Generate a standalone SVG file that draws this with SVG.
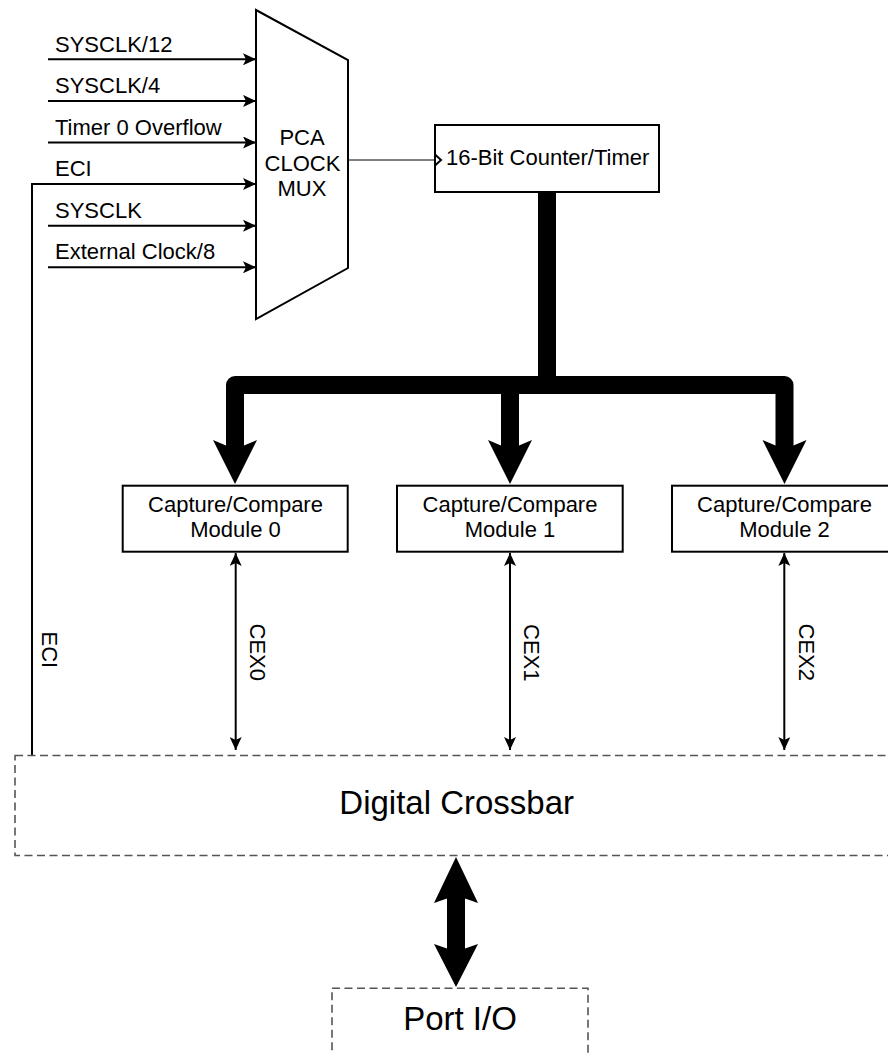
<svg xmlns="http://www.w3.org/2000/svg" width="888" height="1053" viewBox="0 0 888 1053">
<style>
  text { font-family: "Liberation Sans", Arial, sans-serif; fill: #000; }
  .t { font-size: 22px; }
  .big { font-size: 33px; }
  .box { fill: #fff; stroke: #000; stroke-width: 2; }
  .dash { fill: none; stroke: #555; stroke-width: 1.6; stroke-dasharray: 8 4.5; }
  .wire { fill: none; stroke: #000; stroke-width: 2; }
  .thin { fill: none; stroke: #000; stroke-width: 1; }
  .bus { fill: none; stroke: #000; stroke-width: 18; stroke-linejoin: round; }
  .head { fill: #000; stroke: none; }
</style>
<defs>
  <marker id="ah" viewBox="0 0 13 12" refX="13" refY="6" markerWidth="13" markerHeight="12" markerUnits="userSpaceOnUse" orient="auto-start-reverse">
    <path d="M0,0 L13,6 L0,12 L3,6 z" fill="#000"/>
  </marker>
</defs>

<g id="connectors">
  <!-- mux inputs -->
  <line class="wire" x1="48" y1="59.3" x2="256" y2="59.3" marker-end="url(#ah)"/>
  <line class="wire" x1="48" y1="100.9" x2="256" y2="100.9" marker-end="url(#ah)"/>
  <line class="wire" x1="48" y1="142.5" x2="256" y2="142.5" marker-end="url(#ah)"/>
  <polyline class="wire" points="32,755 32,184 256,184" marker-end="url(#ah)"/>
  <line class="wire" x1="48" y1="225.7" x2="256" y2="225.7" marker-end="url(#ah)"/>
  <line class="wire" x1="48" y1="267.3" x2="256" y2="267.3" marker-end="url(#ah)"/>
  <!-- mux to counter -->
  <line class="thin" x1="348" y1="160" x2="435" y2="160"/>
  <!-- thick bus -->
  <path class="bus" d="M235,448 V385 H784.5 V448"/>
  <path class="bus" d="M547,192 V385"/>
  <path class="bus" d="M510,385 V448"/>
  <polygon class="head" points="226,445.5 213,440 235,484 257,440 244,445.5"/>
  <polygon class="head" points="501,445.5 488,440 510,484 532,440 519,445.5"/>
  <polygon class="head" points="775.5,445.5 762.5,440 784.5,484 806.5,440 793.5,445.5"/>
  <!-- CEX lines -->
  <line class="wire" x1="235.7" y1="553" x2="235.7" y2="750" marker-start="url(#ah)" marker-end="url(#ah)"/>
  <line class="wire" x1="510" y1="553" x2="510" y2="750" marker-start="url(#ah)" marker-end="url(#ah)"/>
  <line class="wire" x1="784.3" y1="553" x2="784.3" y2="750" marker-start="url(#ah)" marker-end="url(#ah)"/>
  <!-- crossbar to port I/O -->
  <rect x="447" y="895" width="18" height="56" fill="#000"/>
  <polygon class="head" points="447,898.5 434,903 456,857 478,903 465,898.5"/>
  <polygon class="head" points="447,948.5 434,944 456,987 478,944 465,948.5"/>
  <!-- labels on connectors -->
  <text class="t" x="55" y="51.7">SYSCLK/12</text>
  <text class="t" x="55" y="93.3">SYSCLK/4</text>
  <text class="t" x="55" y="135">Timer 0 Overflow</text>
  <text class="t" x="55" y="176">ECI</text>
  <text class="t" x="55" y="218.3">SYSCLK</text>
  <text class="t" x="55" y="259.3">External Clock/8</text>
  <text class="t" transform="translate(41.5,631.5) rotate(90)">ECI</text>
  <text class="t" transform="translate(249.5,623.5) rotate(90)">CEX0</text>
  <text class="t" transform="translate(524,624) rotate(90)">CEX1</text>
  <text class="t" transform="translate(798.5,623.5) rotate(90)">CEX2</text>
</g>

<g id="mux">
  <polygon class="box" points="256,10 348,60 348,268 256,319"/>
  <text class="t" x="302" y="145" text-anchor="middle">PCA</text>
  <text class="t" x="302.5" y="171" text-anchor="middle">CLOCK</text>
  <text class="t" x="302" y="196" text-anchor="middle">MUX</text>
</g>

<g id="counter">
  <rect class="box" x="435" y="125" width="224" height="67"/>
  <polyline class="wire" points="435,154.5 441,160 435,165.5"/>
  <text class="t" x="446" y="165">16-Bit Counter/Timer</text>
</g>

<g id="module0">
  <rect class="box" x="122.7" y="485.7" width="225" height="66"/>
  <text class="t" x="235.5" y="512.3" text-anchor="middle">Capture/Compare</text>
  <text class="t" x="235.5" y="537.3" text-anchor="middle">Module 0</text>
</g>

<g id="module1">
  <rect class="box" x="397" y="485.7" width="225.7" height="66"/>
  <text class="t" x="510" y="512.3" text-anchor="middle">Capture/Compare</text>
  <text class="t" x="510" y="537.3" text-anchor="middle">Module 1</text>
</g>

<g id="module2">
  <rect class="box" x="672" y="485.7" width="225" height="66"/>
  <text class="t" x="784.5" y="512.3" text-anchor="middle">Capture/Compare</text>
  <text class="t" x="784.5" y="537.3" text-anchor="middle">Module 2</text>
</g>

<g id="crossbar">
  <rect class="dash" x="15" y="755.5" width="890" height="100"/>
  <text class="big" x="456.7" y="814" text-anchor="middle">Digital Crossbar</text>
</g>

<g id="portio">
  <rect class="dash" x="332" y="988.3" width="256" height="100"/>
  <text class="big" x="460" y="1030" text-anchor="middle">Port I/O</text>
</g>
</svg>
